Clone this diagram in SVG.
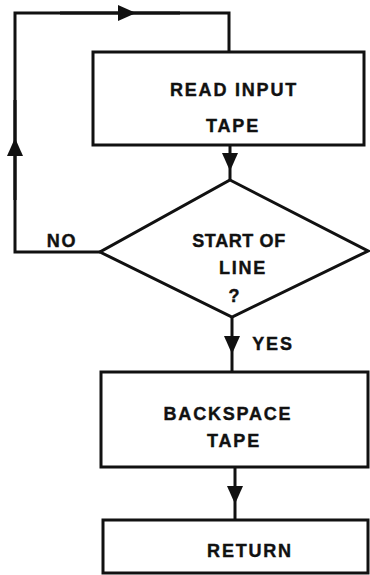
<svg xmlns="http://www.w3.org/2000/svg" width="370" height="575" viewBox="0 0 370 575">
<defs>
<marker id="arr" markerUnits="userSpaceOnUse" markerWidth="22" markerHeight="22" viewBox="-20 -10 22 20" refX="0" refY="0" orient="auto">
<path d="M0,0 L-18,-8 L-18,8 Z" fill="#111"/>
</marker>
</defs>
<style>
.box{fill:#fff;stroke:#111;stroke-width:3}
.ln{fill:none;stroke:#111;stroke-width:3}
.ar{marker-mid:url(#arr)}
text{font-family:"Liberation Sans",Arial,sans-serif;font-weight:bold;font-size:18px;fill:#111;text-anchor:middle;letter-spacing:1.8px;stroke:#111;stroke-width:0.4}
</style>
<rect width="370" height="575" fill="#fff"/>
<g id="connectors">
<path class="ln" d="M100,252 L15,252 L15,13 L229,13 L229,52"/>
<path class="ln ar" d="M15,200 L15,138 L15,100"/>
<path class="ln ar" d="M60,13 L136,13 L180,13"/>
<path class="ln ar" d="M230,145 L230,171 L230,180"/>
<path class="ln ar" d="M232,317 L232,354 L232,372"/>
<path class="ln ar" d="M235,467 L235,504 L235,520"/>
</g>
<g id="read">
<rect class="box" x="93" y="52" width="271" height="93"/>
<text x="234" y="96">READ INPUT</text>
<text x="233" y="132">TAPE</text>
</g>
<g id="decision">
<polygon class="box" points="230,180 368,251 232,317 100,252"/>
<text x="239" y="247" style="letter-spacing:0.6px">START OF</text>
<text x="243" y="274">LINE</text>
<text x="235" y="302">?</text>
</g>
<g id="backspace">
<rect class="box" x="101" y="372" width="267" height="95"/>
<text x="228" y="420">BACKSPACE</text>
<text x="234" y="447">TAPE</text>
</g>
<g id="return">
<rect class="box" x="103" y="520" width="265" height="53"/>
<text x="250" y="557">RETURN</text>
</g>
<g id="labels">
<text x="62" y="247">NO</text>
<text x="273" y="350">YES</text>
</g>
</svg>
